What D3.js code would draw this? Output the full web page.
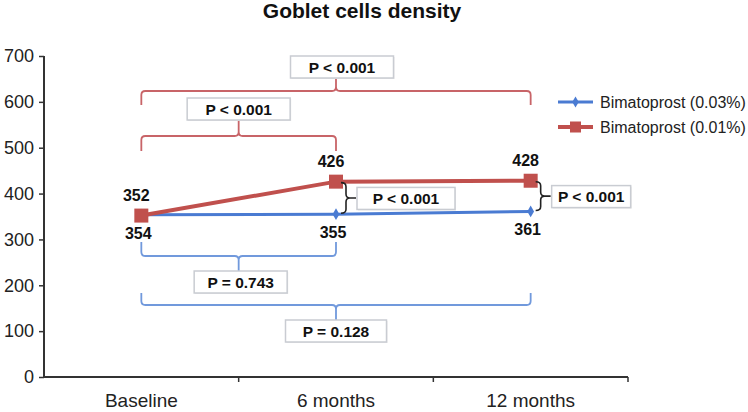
<!DOCTYPE html>
<html>
<head>
<meta charset="utf-8">
<script src="https://cdn.jsdelivr.net/npm/d3@7/dist/d3.min.js"></script>
<style>
  html, body { margin: 0; padding: 0; background: #fff; }
  svg { display: block; font-family: "Liberation Sans", Arial, Helvetica, sans-serif; }
</style>
</head>
<body>
<svg id="chart" width="748" height="412"></svg>
<script>
// ---------- data ----------
const title = "Goblet cells density";
const categories = ["Baseline", "6 months", "12 months"];
const seriesNames = ["Bimatoprost (0.03%)", "Bimatoprost (0.01%)"];
const blueValues = [354, 355, 361];   // Bimatoprost 0.03%
const redValues  = [352, 426, 428];   // Bimatoprost 0.01%
const yTicks = [0, 100, 200, 300, 400, 500, 600, 700];

// within-group comparisons (series index, from category, to category, label)
const withinSeries = [1, 1, 0, 0];
const withinFrom   = [0, 0, 0, 0];
const withinTo     = [2, 1, 1, 2];
const withinLabels = ["P < 0.001", "P < 0.001", "P = 0.743", "P = 0.128"];

// between-group comparisons at a category
const betweenAt     = [1, 2];
const betweenLabels = ["P < 0.001", "P < 0.001"];

(function () {
// ---------- layout ----------
const svg = d3.select("#chart");
const pl = 44, pr = 628, pt = 56, pb = 377;
const colors = ["#4a7bd2", "#c0504d"];
const braceColors = ["#7199dc", "#c86468"];
const series = [blueValues, redValues];

const x = d3.scaleBand().domain(categories).range([pl, pr]);
const y = d3.scaleLinear().domain([0, 700]).range([pb, pt]);
const cx = i => x(categories[i]) + x.bandwidth() / 2;

// title
svg.append("text")
  .attr("x", 362).attr("y", 18)
  .attr("text-anchor", "middle")
  .attr("font-size", 21).attr("font-weight", "bold").attr("fill", "#111")
  .text(title);

// y axis
const yAxis = svg.append("g")
  .attr("transform", `translate(${pl},0)`)
  .call(d3.axisLeft(y).tickValues(yTicks).tickSize(5).tickPadding(5).tickFormat(d3.format("d")));
yAxis.select(".domain").attr("stroke", "#333").attr("stroke-width", 2).attr("d", `M0,${pt}V${pb}`);
yAxis.selectAll(".tick line").attr("stroke", "#333").attr("stroke-width", 1.5);
yAxis.selectAll(".tick text").attr("font-size", 18).attr("fill", "#222")
  .attr("font-family", "'Liberation Sans', Arial, sans-serif");

// x axis
const xAxis = svg.append("g")
  .attr("transform", `translate(0,${pb})`)
  .call(d3.axisBottom(x).tickSize(0).tickPadding(17));
xAxis.select(".domain").attr("stroke", "#333").attr("stroke-width", 2).attr("d", `M${pl},0H${pr}`);
xAxis.selectAll(".tick text").attr("font-size", 19).attr("fill", "#222")
  .attr("font-family", "'Liberation Sans', Arial, sans-serif");
// boundary ticks
xAxis.selectAll(".btick")
  .data(categories)
  .enter().append("line")
  .attr("x1", d => x(d) + x.bandwidth()).attr("x2", d => x(d) + x.bandwidth())
  .attr("y1", 0).attr("y2", 5)
  .attr("stroke", "#333").attr("stroke-width", 1.5);

// helper: label box
function pBox(cxBox, yTop, w, h, label) {
  const g = svg.append("g");
  g.append("rect")
    .attr("x", cxBox - w / 2 + 1).attr("y", yTop + 1)
    .attr("width", w).attr("height", h)
    .attr("fill", "#e8e8e8");
  g.append("rect")
    .attr("x", cxBox - w / 2).attr("y", yTop)
    .attr("width", w).attr("height", h)
    .attr("fill", "#fff").attr("stroke", "#c9ccd2").attr("stroke-width", 1.5);
  g.append("text")
    .attr("x", cxBox).attr("y", yTop + h / 2 + 5.5)
    .attr("text-anchor", "middle")
    .attr("font-size", 15.5).attr("font-weight", "bold").attr("fill", "#111")
    .text(label);
}

// helper: horizontal brace
function hBrace(x1, x2, yy, endDy, tipDy, color) {
  const r = 4;
  const se = Math.sign(endDy), st = Math.sign(tipDy);
  const xm = (x1 + x2) / 2;
  const p = d3.path();
  p.moveTo(x1, yy + endDy);
  p.lineTo(x1, yy + se * r);
  p.quadraticCurveTo(x1, yy, x1 + r, yy);
  p.lineTo(xm - r, yy);
  p.quadraticCurveTo(xm, yy, xm, yy + st * r);
  p.lineTo(xm, yy + tipDy);
  p.moveTo(xm, yy + st * r);
  p.quadraticCurveTo(xm, yy, xm + r, yy);
  p.lineTo(x2 - r, yy);
  p.quadraticCurveTo(x2, yy, x2, yy + se * r);
  p.lineTo(x2, yy + endDy);
  svg.append("path").attr("d", p.toString())
    .attr("fill", "none").attr("stroke", color).attr("stroke-width", 1.8);
  return xm;
}

// within-group braces
const braceY   = [91, 136, 256, 305];
const braceEnd = [14, 15, -14, -12];
const braceTip = [-13, -16, 15, 15];
const boxW     = [103, 103, 93, 101];
const boxDx    = [6, 0, 2, 0];
withinLabels.forEach((lab, i) => {
  const x1 = cx(withinFrom[i]), x2 = cx(withinTo[i]);
  const xm = hBrace(x1, x2, braceY[i], braceEnd[i], braceTip[i], braceColors[withinSeries[i]]);
  const h = 22;
  const yTop = braceTip[i] < 0 ? braceY[i] + braceTip[i] - h : braceY[i] + braceTip[i];
  pBox(xm + boxDx[i], yTop, boxW[i], h, lab);
});

// lines and markers
const line = d3.line().x((d, i) => cx(i)).y(d => y(d));
series.forEach((vals, s) => {
  svg.append("path").datum(vals)
    .attr("d", line)
    .attr("fill", "none").attr("stroke", colors[s])
    .attr("stroke-width", s === 1 ? 4 : 3);
});
// blue diamonds
svg.selectAll(".bd").data(blueValues).enter().append("path")
  .attr("d", d3.symbol().type(d3.symbolDiamond).size(40))
  .attr("transform", (d, i) => `translate(${cx(i)},${y(d)})`)
  .attr("fill", colors[0]);
// red squares
svg.selectAll(".rs").data(redValues).enter().append("rect")
  .attr("x", (d, i) => cx(i) - 7).attr("y", d => y(d) - 7)
  .attr("width", 14).attr("height", 14)
  .attr("fill", colors[1]);

// between-group braces (vertical, black)
const bBoxW = [98, 79];
betweenAt.forEach((c, k) => {
  const xx = cx(c) + 10;
  const y1 = y(redValues[c]) + 1, y2 = y(blueValues[c]) - 1;
  const ym = (y1 + y2) / 2;
  const r = 4;
  const p = d3.path();
  p.moveTo(xx - 5, y1);
  p.quadraticCurveTo(xx, y1, xx, y1 + r);
  p.lineTo(xx, ym - r);
  p.quadraticCurveTo(xx, ym, xx + r, ym);
  p.lineTo(xx + 10, ym);
  p.moveTo(xx + r, ym);
  p.quadraticCurveTo(xx, ym, xx, ym + r);
  p.lineTo(xx, y2 - r);
  p.quadraticCurveTo(xx, y2, xx - 5, y2);
  svg.append("path").attr("d", p.toString())
    .attr("fill", "none").attr("stroke", "#222").attr("stroke-width", 1.6);
  pBox(xx + 11 + bBoxW[k] / 2, ym - 10.5, bBoxW[k], 22, betweenLabels[k]);
});

// value labels
svg.selectAll(".rl").data(redValues).enter().append("text")
  .attr("x", (d, i) => cx(i) - 5).attr("y", d => y(d) - 15)
  .attr("text-anchor", "middle").attr("font-size", 16).attr("font-weight", "bold").attr("fill", "#111")
  .text(d => d);
svg.selectAll(".bl").data(blueValues).enter().append("text")
  .attr("x", (d, i) => cx(i) - 3).attr("y", d => y(d) + 24)
  .attr("text-anchor", "middle").attr("font-size", 16).attr("font-weight", "bold").attr("fill", "#111")
  .text(d => d);

// legend
const legY = [102, 127];
seriesNames.forEach((name, s) => {
  const g = svg.append("g").attr("transform", `translate(558,${legY[s]})`);
  g.append("line").attr("x1", 0).attr("x2", 35).attr("y1", 0).attr("y2", 0)
    .attr("stroke", colors[s]).attr("stroke-width", s === 1 ? 4 : 3);
  if (s === 0) {
    g.append("path").attr("d", d3.symbol().type(d3.symbolDiamond).size(36))
      .attr("transform", "translate(17.5,0)").attr("fill", colors[0]);
  } else {
    g.append("rect").attr("x", 12).attr("y", -5.5).attr("width", 11).attr("height", 11).attr("fill", colors[1]);
  }
  g.append("text").attr("x", 42).attr("y", 6)
    .attr("font-size", 16).attr("fill", "#222").text(name);
});
})();
</script>
</body>
</html>
